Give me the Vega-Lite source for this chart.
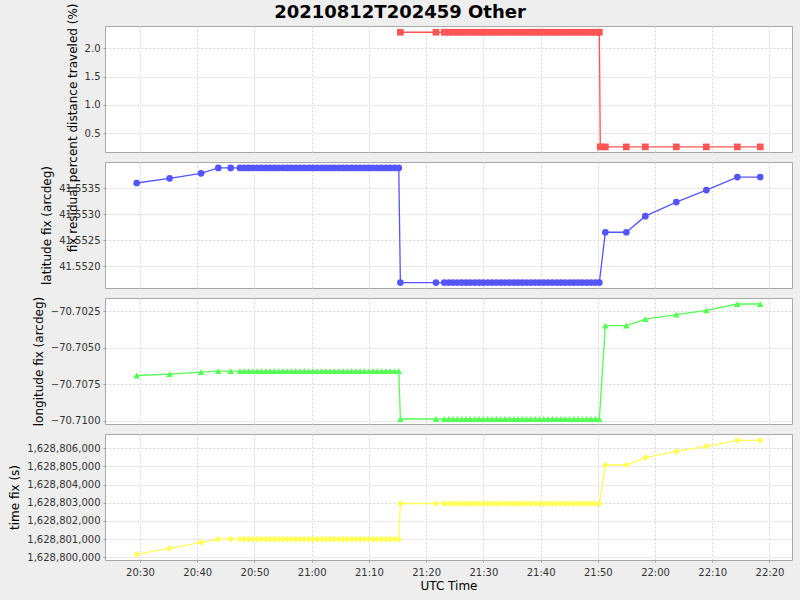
{
  "$schema": "https://vega.github.io/schema/vega-lite/v6.json",
  "background": "#EEEEEE",
  "autosize": "none",
  "padding": {"left": 105, "top": 26, "right": 695, "bottom": 574},
  "bounds": "flush",
  "spacing": 10,
  "title": {"text": "20210812T202459 Other", "font": "DejaVu Sans", "fontSize": 18, "fontWeight": "bold", "color": "#000000", "anchor": "middle", "frame": "group", "dx": -48.5, "baseline": "alphabetic", "offset": -33},
  "data": {"values": [
    {"t": "2021-08-12T20:29:25Z", "lat": 41.553597, "lon": -70.70690, "tf": 1628800165},
    {"t": "2021-08-12T20:35:10Z", "lat": 41.553687, "lon": -70.70681, "tf": 1628800495},
    {"t": "2021-08-12T20:40:40Z", "lat": 41.553783, "lon": -70.70667, "tf": 1628800826},
    {"t": "2021-08-12T20:43:41Z", "lat": 41.553886, "lon": -70.70660, "tf": 1628801000},
    {"t": "2021-08-12T20:45:51Z", "lat": 41.553886, "lon": -70.70660, "tf": 1628801000},
    {"t": "2021-08-12T20:47:28Z", "lat": 41.553886, "lon": -70.70660, "tf": 1628801000},
    {"t": "2021-08-12T20:48:13Z", "lat": 41.553886, "lon": -70.70660, "tf": 1628801000},
    {"t": "2021-08-12T20:48:58Z", "lat": 41.553886, "lon": -70.70660, "tf": 1628801000},
    {"t": "2021-08-12T20:49:43Z", "lat": 41.553886, "lon": -70.70660, "tf": 1628801000},
    {"t": "2021-08-12T20:50:28Z", "lat": 41.553886, "lon": -70.70660, "tf": 1628801000},
    {"t": "2021-08-12T20:51:13Z", "lat": 41.553886, "lon": -70.70660, "tf": 1628801000},
    {"t": "2021-08-12T20:51:58Z", "lat": 41.553886, "lon": -70.70660, "tf": 1628801000},
    {"t": "2021-08-12T20:52:43Z", "lat": 41.553886, "lon": -70.70660, "tf": 1628801000},
    {"t": "2021-08-12T20:53:28Z", "lat": 41.553886, "lon": -70.70660, "tf": 1628801000},
    {"t": "2021-08-12T20:54:13Z", "lat": 41.553886, "lon": -70.70660, "tf": 1628801000},
    {"t": "2021-08-12T20:54:58Z", "lat": 41.553886, "lon": -70.70660, "tf": 1628801000},
    {"t": "2021-08-12T20:55:43Z", "lat": 41.553886, "lon": -70.70660, "tf": 1628801000},
    {"t": "2021-08-12T20:56:28Z", "lat": 41.553886, "lon": -70.70660, "tf": 1628801000},
    {"t": "2021-08-12T20:57:13Z", "lat": 41.553886, "lon": -70.70660, "tf": 1628801000},
    {"t": "2021-08-12T20:57:58Z", "lat": 41.553886, "lon": -70.70660, "tf": 1628801000},
    {"t": "2021-08-12T20:58:43Z", "lat": 41.553886, "lon": -70.70660, "tf": 1628801000},
    {"t": "2021-08-12T20:59:28Z", "lat": 41.553886, "lon": -70.70660, "tf": 1628801000},
    {"t": "2021-08-12T21:00:13Z", "lat": 41.553886, "lon": -70.70660, "tf": 1628801000},
    {"t": "2021-08-12T21:00:58Z", "lat": 41.553886, "lon": -70.70660, "tf": 1628801000},
    {"t": "2021-08-12T21:01:43Z", "lat": 41.553886, "lon": -70.70660, "tf": 1628801000},
    {"t": "2021-08-12T21:02:28Z", "lat": 41.553886, "lon": -70.70660, "tf": 1628801000},
    {"t": "2021-08-12T21:03:13Z", "lat": 41.553886, "lon": -70.70660, "tf": 1628801000},
    {"t": "2021-08-12T21:03:58Z", "lat": 41.553886, "lon": -70.70660, "tf": 1628801000},
    {"t": "2021-08-12T21:04:43Z", "lat": 41.553886, "lon": -70.70660, "tf": 1628801000},
    {"t": "2021-08-12T21:05:28Z", "lat": 41.553886, "lon": -70.70660, "tf": 1628801000},
    {"t": "2021-08-12T21:06:13Z", "lat": 41.553886, "lon": -70.70660, "tf": 1628801000},
    {"t": "2021-08-12T21:06:58Z", "lat": 41.553886, "lon": -70.70660, "tf": 1628801000},
    {"t": "2021-08-12T21:07:43Z", "lat": 41.553886, "lon": -70.70660, "tf": 1628801000},
    {"t": "2021-08-12T21:08:28Z", "lat": 41.553886, "lon": -70.70660, "tf": 1628801000},
    {"t": "2021-08-12T21:09:13Z", "lat": 41.553886, "lon": -70.70660, "tf": 1628801000},
    {"t": "2021-08-12T21:09:58Z", "lat": 41.553886, "lon": -70.70660, "tf": 1628801000},
    {"t": "2021-08-12T21:10:43Z", "lat": 41.553886, "lon": -70.70660, "tf": 1628801000},
    {"t": "2021-08-12T21:11:28Z", "lat": 41.553886, "lon": -70.70660, "tf": 1628801000},
    {"t": "2021-08-12T21:12:13Z", "lat": 41.553886, "lon": -70.70660, "tf": 1628801000},
    {"t": "2021-08-12T21:12:58Z", "lat": 41.553886, "lon": -70.70660, "tf": 1628801000},
    {"t": "2021-08-12T21:13:43Z", "lat": 41.553886, "lon": -70.70660, "tf": 1628801000},
    {"t": "2021-08-12T21:14:28Z", "lat": 41.553886, "lon": -70.70660, "tf": 1628801000},
    {"t": "2021-08-12T21:15:13Z", "lat": 41.553886, "lon": -70.70660, "tf": 1628801000},
    {"t": "2021-08-12T21:15:30Z", "lat": 41.551685, "lon": -70.70987, "tf": 1628802960, "res": 2.28},
    {"t": "2021-08-12T21:21:43Z", "lat": 41.551685, "lon": -70.70987, "tf": 1628802960, "res": 2.28},
    {"t": "2021-08-12T21:23:10Z", "lat": 41.551685, "lon": -70.70987, "tf": 1628802960, "res": 2.28},
    {"t": "2021-08-12T21:23:56Z", "lat": 41.551685, "lon": -70.70987, "tf": 1628802960, "res": 2.28},
    {"t": "2021-08-12T21:24:41Z", "lat": 41.551685, "lon": -70.70987, "tf": 1628802960, "res": 2.28},
    {"t": "2021-08-12T21:25:27Z", "lat": 41.551685, "lon": -70.70987, "tf": 1628802960, "res": 2.28},
    {"t": "2021-08-12T21:26:12Z", "lat": 41.551685, "lon": -70.70987, "tf": 1628802960, "res": 2.28},
    {"t": "2021-08-12T21:26:58Z", "lat": 41.551685, "lon": -70.70987, "tf": 1628802960, "res": 2.28},
    {"t": "2021-08-12T21:27:43Z", "lat": 41.551685, "lon": -70.70987, "tf": 1628802960, "res": 2.28},
    {"t": "2021-08-12T21:28:29Z", "lat": 41.551685, "lon": -70.70987, "tf": 1628802960, "res": 2.28},
    {"t": "2021-08-12T21:29:14Z", "lat": 41.551685, "lon": -70.70987, "tf": 1628802960, "res": 2.28},
    {"t": "2021-08-12T21:30:00Z", "lat": 41.551685, "lon": -70.70987, "tf": 1628802960, "res": 2.28},
    {"t": "2021-08-12T21:30:45Z", "lat": 41.551685, "lon": -70.70987, "tf": 1628802960, "res": 2.28},
    {"t": "2021-08-12T21:31:31Z", "lat": 41.551685, "lon": -70.70987, "tf": 1628802960, "res": 2.28},
    {"t": "2021-08-12T21:32:16Z", "lat": 41.551685, "lon": -70.70987, "tf": 1628802960, "res": 2.28},
    {"t": "2021-08-12T21:33:02Z", "lat": 41.551685, "lon": -70.70987, "tf": 1628802960, "res": 2.28},
    {"t": "2021-08-12T21:33:47Z", "lat": 41.551685, "lon": -70.70987, "tf": 1628802960, "res": 2.28},
    {"t": "2021-08-12T21:34:33Z", "lat": 41.551685, "lon": -70.70987, "tf": 1628802960, "res": 2.28},
    {"t": "2021-08-12T21:35:18Z", "lat": 41.551685, "lon": -70.70987, "tf": 1628802960, "res": 2.28},
    {"t": "2021-08-12T21:36:03Z", "lat": 41.551685, "lon": -70.70987, "tf": 1628802960, "res": 2.28},
    {"t": "2021-08-12T21:36:48Z", "lat": 41.551685, "lon": -70.70987, "tf": 1628802960, "res": 2.28},
    {"t": "2021-08-12T21:37:33Z", "lat": 41.551685, "lon": -70.70987, "tf": 1628802960, "res": 2.28},
    {"t": "2021-08-12T21:38:18Z", "lat": 41.551685, "lon": -70.70987, "tf": 1628802960, "res": 2.28},
    {"t": "2021-08-12T21:39:03Z", "lat": 41.551685, "lon": -70.70987, "tf": 1628802960, "res": 2.28},
    {"t": "2021-08-12T21:39:48Z", "lat": 41.551685, "lon": -70.70987, "tf": 1628802960, "res": 2.28},
    {"t": "2021-08-12T21:40:33Z", "lat": 41.551685, "lon": -70.70987, "tf": 1628802960, "res": 2.28},
    {"t": "2021-08-12T21:41:18Z", "lat": 41.551685, "lon": -70.70987, "tf": 1628802960, "res": 2.28},
    {"t": "2021-08-12T21:42:03Z", "lat": 41.551685, "lon": -70.70987, "tf": 1628802960, "res": 2.28},
    {"t": "2021-08-12T21:42:48Z", "lat": 41.551685, "lon": -70.70987, "tf": 1628802960, "res": 2.28},
    {"t": "2021-08-12T21:43:33Z", "lat": 41.551685, "lon": -70.70987, "tf": 1628802960, "res": 2.28},
    {"t": "2021-08-12T21:44:18Z", "lat": 41.551685, "lon": -70.70987, "tf": 1628802960, "res": 2.28},
    {"t": "2021-08-12T21:45:03Z", "lat": 41.551685, "lon": -70.70987, "tf": 1628802960, "res": 2.28},
    {"t": "2021-08-12T21:45:48Z", "lat": 41.551685, "lon": -70.70987, "tf": 1628802960, "res": 2.28},
    {"t": "2021-08-12T21:46:33Z", "lat": 41.551685, "lon": -70.70987, "tf": 1628802960, "res": 2.28},
    {"t": "2021-08-12T21:47:18Z", "lat": 41.551685, "lon": -70.70987, "tf": 1628802960, "res": 2.28},
    {"t": "2021-08-12T21:48:03Z", "lat": 41.551685, "lon": -70.70987, "tf": 1628802960, "res": 2.28},
    {"t": "2021-08-12T21:48:48Z", "lat": 41.551685, "lon": -70.70987, "tf": 1628802960, "res": 2.28},
    {"t": "2021-08-12T21:49:33Z", "lat": 41.551685, "lon": -70.70987, "tf": 1628802960, "res": 2.28},
    {"t": "2021-08-12T21:50:16Z", "lat": 41.551685, "lon": -70.70987, "tf": 1628802960, "res": 2.28},
    {"t": "2021-08-12T21:50:26Z", "res": 0.26},
    {"t": "2021-08-12T21:51:19Z", "lat": 41.552651, "lon": -70.70350, "tf": 1628805081, "res": 0.26},
    {"t": "2021-08-12T21:54:59Z", "lat": 41.552651, "lon": -70.70350, "tf": 1628805081, "res": 0.26},
    {"t": "2021-08-12T21:58:18Z", "lat": 41.552960, "lon": -70.70305, "tf": 1628805483, "res": 0.26},
    {"t": "2021-08-12T22:03:43Z", "lat": 41.553230, "lon": -70.70275, "tf": 1628805835, "res": 0.26},
    {"t": "2021-08-12T22:08:58Z", "lat": 41.553460, "lon": -70.70246, "tf": 1628806110, "res": 0.26},
    {"t": "2021-08-12T22:14:23Z", "lat": 41.553710, "lon": -70.70202, "tf": 1628806440, "res": 0.26},
    {"t": "2021-08-12T22:18:23Z", "lat": 41.553710, "lon": -70.70202, "tf": 1628806440, "res": 0.26}
  ]},
  "config": {
    "font": "DejaVu Sans",
    "view": {"fill": "#FFFFFF", "stroke": "#A8A8A8", "strokeWidth": 1},
    "axis": {
      "labelFont": "DejaVu Sans", "labelFontSize": 10, "labelColor": "#333333",
      "titleFont": "DejaVu Sans", "titleFontSize": 12, "titleFontWeight": "normal", "titleColor": "#000000",
      "gridColor": "#D6D6D6", "gridDash": [2, 2], "gridWidth": 1,
      "tickColor": "#999999", "tickSize": 2, "domain": false, "labelPadding": 3, "titlePadding": 5
    },
    "line": {"strokeWidth": 1.3},
    "point": {"filled": true, "opacity": 1, "size": 45}
  },
  "vconcat": [
    {
      "width": 687, "height": 126,
      "transform": [{"filter": "isValid(datum.res)"}],
      "encoding": {
        "x": {"field": "t", "type": "temporal", "scale": {"type": "utc", "domain": [{"year": 2021, "month": 8, "date": 12, "hours": 20, "minutes": 23, "seconds": 53, "utc": true}, {"year": 2021, "month": 8, "date": 12, "hours": 22, "minutes": 23, "seconds": 56, "utc": true}]}, "axis": {"labels": false, "ticks": false, "title": null, "values": [
        {"year": 2021, "month": 8, "date": 12, "hours": 20, "minutes": 30, "utc": true},
        {"year": 2021, "month": 8, "date": 12, "hours": 20, "minutes": 40, "utc": true},
        {"year": 2021, "month": 8, "date": 12, "hours": 20, "minutes": 50, "utc": true},
        {"year": 2021, "month": 8, "date": 12, "hours": 21, "minutes": 0, "utc": true},
        {"year": 2021, "month": 8, "date": 12, "hours": 21, "minutes": 10, "utc": true},
        {"year": 2021, "month": 8, "date": 12, "hours": 21, "minutes": 20, "utc": true},
        {"year": 2021, "month": 8, "date": 12, "hours": 21, "minutes": 30, "utc": true},
        {"year": 2021, "month": 8, "date": 12, "hours": 21, "minutes": 40, "utc": true},
        {"year": 2021, "month": 8, "date": 12, "hours": 21, "minutes": 50, "utc": true},
        {"year": 2021, "month": 8, "date": 12, "hours": 22, "minutes": 0, "utc": true},
        {"year": 2021, "month": 8, "date": 12, "hours": 22, "minutes": 10, "utc": true},
        {"year": 2021, "month": 8, "date": 12, "hours": 22, "minutes": 20, "utc": true}]}},
        "y": {"field": "res", "type": "quantitative", "scale": {"domain": [0.17, 2.39], "nice": false, "zero": false}, "axis": {"title": "fix residual percent distance traveled (%)", "values": [0.5, 1.0, 1.5, 2.0], "format": ".1f", "titleAlign": "right", "titleY": -23}}
      },
      "layer": [
        {"mark": {"type": "line", "color": "#FF5555"}},
        {"mark": {"type": "point", "shape": "square", "color": "#FF5555"}}
      ]
    },
    {
      "width": 687, "height": 126,
      "transform": [{"filter": "isValid(datum.lat)"}],
      "encoding": {
        "x": {"field": "t", "type": "temporal", "scale": {"type": "utc", "domain": [{"year": 2021, "month": 8, "date": 12, "hours": 20, "minutes": 23, "seconds": 53, "utc": true}, {"year": 2021, "month": 8, "date": 12, "hours": 22, "minutes": 23, "seconds": 56, "utc": true}]}, "axis": {"labels": false, "ticks": false, "title": null, "values": [
        {"year": 2021, "month": 8, "date": 12, "hours": 20, "minutes": 30, "utc": true},
        {"year": 2021, "month": 8, "date": 12, "hours": 20, "minutes": 40, "utc": true},
        {"year": 2021, "month": 8, "date": 12, "hours": 20, "minutes": 50, "utc": true},
        {"year": 2021, "month": 8, "date": 12, "hours": 21, "minutes": 0, "utc": true},
        {"year": 2021, "month": 8, "date": 12, "hours": 21, "minutes": 10, "utc": true},
        {"year": 2021, "month": 8, "date": 12, "hours": 21, "minutes": 20, "utc": true},
        {"year": 2021, "month": 8, "date": 12, "hours": 21, "minutes": 30, "utc": true},
        {"year": 2021, "month": 8, "date": 12, "hours": 21, "minutes": 40, "utc": true},
        {"year": 2021, "month": 8, "date": 12, "hours": 21, "minutes": 50, "utc": true},
        {"year": 2021, "month": 8, "date": 12, "hours": 22, "minutes": 0, "utc": true},
        {"year": 2021, "month": 8, "date": 12, "hours": 22, "minutes": 10, "utc": true},
        {"year": 2021, "month": 8, "date": 12, "hours": 22, "minutes": 20, "utc": true}]}},
        "y": {"field": "lat", "type": "quantitative", "scale": {"domain": [41.55158, 41.554], "nice": false, "zero": false}, "axis": {"title": "latitude fix (arcdeg)", "values": [41.552, 41.5525, 41.553, 41.5535], "format": ".4f"}}
      },
      "layer": [
        {"mark": {"type": "line", "color": "#5555FF"}},
        {"mark": {"type": "point", "shape": "circle", "color": "#5555FF"}}
      ]
    },
    {
      "width": 687, "height": 126,
      "transform": [{"filter": "isValid(datum.lon)"}],
      "encoding": {
        "x": {"field": "t", "type": "temporal", "scale": {"type": "utc", "domain": [{"year": 2021, "month": 8, "date": 12, "hours": 20, "minutes": 23, "seconds": 53, "utc": true}, {"year": 2021, "month": 8, "date": 12, "hours": 22, "minutes": 23, "seconds": 56, "utc": true}]}, "axis": {"labels": false, "ticks": false, "title": null, "values": [
        {"year": 2021, "month": 8, "date": 12, "hours": 20, "minutes": 30, "utc": true},
        {"year": 2021, "month": 8, "date": 12, "hours": 20, "minutes": 40, "utc": true},
        {"year": 2021, "month": 8, "date": 12, "hours": 20, "minutes": 50, "utc": true},
        {"year": 2021, "month": 8, "date": 12, "hours": 21, "minutes": 0, "utc": true},
        {"year": 2021, "month": 8, "date": 12, "hours": 21, "minutes": 10, "utc": true},
        {"year": 2021, "month": 8, "date": 12, "hours": 21, "minutes": 20, "utc": true},
        {"year": 2021, "month": 8, "date": 12, "hours": 21, "minutes": 30, "utc": true},
        {"year": 2021, "month": 8, "date": 12, "hours": 21, "minutes": 40, "utc": true},
        {"year": 2021, "month": 8, "date": 12, "hours": 21, "minutes": 50, "utc": true},
        {"year": 2021, "month": 8, "date": 12, "hours": 22, "minutes": 0, "utc": true},
        {"year": 2021, "month": 8, "date": 12, "hours": 22, "minutes": 10, "utc": true},
        {"year": 2021, "month": 8, "date": 12, "hours": 22, "minutes": 20, "utc": true}]}},
        "y": {"field": "lon", "type": "quantitative", "scale": {"domain": [-70.71021, -70.70161], "nice": false, "zero": false}, "axis": {"title": "longitude fix (arcdeg)", "values": [-70.71, -70.7075, -70.705, -70.7025], "format": ".4f"}}
      },
      "layer": [
        {"mark": {"type": "line", "color": "#55FF55"}},
        {"mark": {"type": "point", "shape": "triangle-up", "color": "#55FF55"}}
      ]
    },
    {
      "width": 687, "height": 126,
      "transform": [{"filter": "isValid(datum.tf)"}],
      "encoding": {
        "x": {"field": "t", "type": "temporal", "scale": {"type": "utc", "domain": [{"year": 2021, "month": 8, "date": 12, "hours": 20, "minutes": 23, "seconds": 53, "utc": true}, {"year": 2021, "month": 8, "date": 12, "hours": 22, "minutes": 23, "seconds": 56, "utc": true}]}, "axis": {"title": "UTC Time", "format": "%H:%M", "labelPadding": 5, "titlePadding": 3, "values": [
        {"year": 2021, "month": 8, "date": 12, "hours": 20, "minutes": 30, "utc": true},
        {"year": 2021, "month": 8, "date": 12, "hours": 20, "minutes": 40, "utc": true},
        {"year": 2021, "month": 8, "date": 12, "hours": 20, "minutes": 50, "utc": true},
        {"year": 2021, "month": 8, "date": 12, "hours": 21, "minutes": 0, "utc": true},
        {"year": 2021, "month": 8, "date": 12, "hours": 21, "minutes": 10, "utc": true},
        {"year": 2021, "month": 8, "date": 12, "hours": 21, "minutes": 20, "utc": true},
        {"year": 2021, "month": 8, "date": 12, "hours": 21, "minutes": 30, "utc": true},
        {"year": 2021, "month": 8, "date": 12, "hours": 21, "minutes": 40, "utc": true},
        {"year": 2021, "month": 8, "date": 12, "hours": 21, "minutes": 50, "utc": true},
        {"year": 2021, "month": 8, "date": 12, "hours": 22, "minutes": 0, "utc": true},
        {"year": 2021, "month": 8, "date": 12, "hours": 22, "minutes": 10, "utc": true},
        {"year": 2021, "month": 8, "date": 12, "hours": 22, "minutes": 20, "utc": true}]}},
        "y": {"field": "tf", "type": "quantitative", "scale": {"domain": [1628799851, 1628806787], "nice": false, "zero": false}, "axis": {"title": "time fix (s)", "values": [1628800000, 1628801000, 1628802000, 1628803000, 1628804000, 1628805000, 1628806000], "format": ",d"}}
      },
      "layer": [
        {"mark": {"type": "line", "color": "#FFFF55"}},
        {"mark": {"type": "point", "shape": "diamond", "color": "#FFFF55"}}
      ]
    }
  ]
}
